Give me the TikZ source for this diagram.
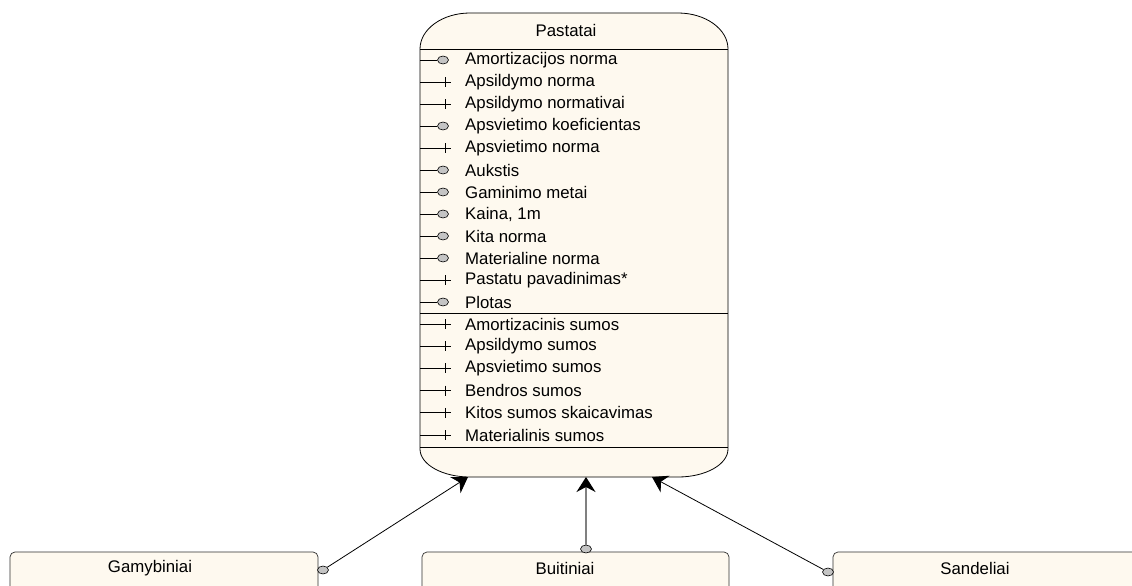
\documentclass[tikz,border=0pt]{standalone}
\usepackage{fontspec}
\setmainfont{Liberation Sans}
\usetikzlibrary{arrows.meta,shapes.geometric}
\definecolor{cream}{HTML}{FEF9EF}
\definecolor{portgray}{HTML}{C4C4C4}
\definecolor{edgegray}{HTML}{808080}
\definecolor{boxline}{HTML}{303030}
\tikzset{
  lbl/.style={anchor=west, inner sep=0pt, font=\fontsize{16.8}{19}\selectfont},
  ttl/.style={inner sep=0pt, font=\fontsize{16.8}{19}\selectfont},
  portdot/.style={ellipse, draw=black, line width=0.6pt, fill=portgray, minimum width=11pt, minimum height=8pt, inner sep=0pt},
  classbox/.style={draw=boxline, line width=0.7pt, fill=cream, rounded corners=5pt},
  inh/.style={draw=black, line width=0.8pt, -{Stealth[length=15pt,width=19pt,inset=5pt]}},
  inhgray/.style={draw=edgegray, line width=1.6pt, -{Stealth[length=15pt,width=19pt,inset=5pt,fill=black,color=black]}},
  sepline/.style={draw=black, line width=0.7pt},
}
\begin{document}
\begin{tikzpicture}[x=1pt,y=-1pt]
\useasboundingbox (0,0) rectangle (1132,586);
\clip (0,0) rectangle (1132,586);
\fill[white] (0,0) rectangle (1132,586);

% main class outline
\draw[fill=cream, draw=black, line width=0.8pt]
  (420,49) arc[start angle=180, end angle=270, x radius=50, y radius=36]
  -- (678,13) arc[start angle=270, end angle=360, x radius=50, y radius=36]
  -- (728,449) arc[start angle=0, end angle=90, x radius=50, y radius=28]
  -- (470,477) arc[start angle=90, end angle=180, x radius=50, y radius=28]
  -- cycle;
\node[ttl] (hdr) at (566,30) {Pastatai};
\draw[sepline] (420,49) -- (728,49);
\draw[sepline] (420,313) -- (728,313);
\draw[sepline] (420,447) -- (728,447);

% attributes
\foreach \t/\k [count=\i from 0] in {
  Amortizacijos norma/o, Apsildymo norma/p, Apsildymo normativai/p,
  Apsvietimo koeficientas/o, Apsvietimo norma/p, Aukstis/o,
  Gaminimo metai/o, {Kaina, 1m}/o, Kita norma/o, Materialine norma/o,
  Pastatu pavadinimas*/p, Plotas/o}{
  \pgfmathsetmacro\yy{60+22*\i}
  \node[lbl] (at\i) at (465,\yy) {\t};
  \if\k o
    \draw[line width=0.7pt] (420,\yy) -- (437,\yy);
    \node[portdot] (ai\i) at (443,\yy) {};
  \else
    \draw[line width=0.7pt] (420,\yy) -- (451,\yy);
    \draw[line width=0.7pt] (445,\yy-5) -- (445,\yy+5);
  \fi
}
% operations
\foreach \t [count=\i from 0] in {
  Amortizacinis sumos, Apsildymo sumos, Apsvietimo sumos,
  Bendros sumos, Kitos sumos skaicavimas, Materialinis sumos}{
  \pgfmathsetmacro\yy{324+22.2*\i}
  \node[lbl] (op\i) at (465,\yy) {\t};
  \draw[line width=0.7pt] (420,\yy) -- (451,\yy);
  \draw[line width=0.7pt] (445,\yy-5) -- (445,\yy+5);
}

% subclasses
\draw[classbox] (10,552) rectangle (318,600);
\node[ttl] (gam) at (150,568) {Gamybiniai};
\draw[classbox] (422,552) rectangle (729,600);
\node[ttl] (bui) at (565,568) {Buitiniai};
\draw[classbox] (833,552) rectangle (1141,600);
\node[ttl] (san) at (975,568) {Sandeliai};

% ports
\node[portdot] (pg) at (323,570) {};
\node[portdot] (pb) at (586,549) {};
\node[portdot] (ps) at (828,572) {};

% targets on the main class
\coordinate (t1) at (468,477);
\coordinate (t2) at (586,477);
\coordinate (t3) at (652,477);

\draw[inh] (pg) -- (t1);
\draw[inhgray] (pb) -- (t2);
\draw[inh] (ps) -- (t3);
\end{tikzpicture}
\end{document}
